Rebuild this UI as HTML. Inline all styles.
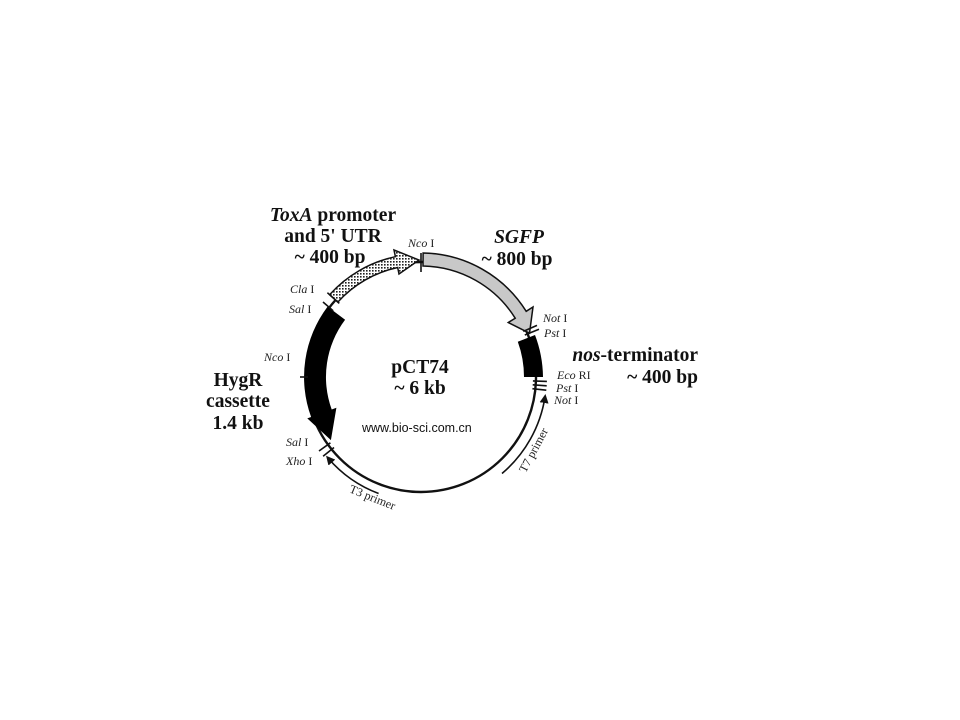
<!DOCTYPE html>
<html><head><meta charset="utf-8"><style>
html,body{margin:0;padding:0;background:#fff;}
svg{display:block;}
.b{font-family:"Liberation Serif",serif;font-weight:bold;font-size:19.5px;fill:#111;}
.s{font-family:"Liberation Serif",serif;font-size:12px;fill:#222;}
.w{font-family:"Liberation Sans",sans-serif;font-size:12.5px;fill:#111;}
</style></head><body>
<svg width="960" height="720" viewBox="0 0 960 720" xmlns="http://www.w3.org/2000/svg">
<defs>
<pattern id="dots" width="3" height="3" patternUnits="userSpaceOnUse">
<rect width="3" height="3" fill="#fff"/><rect width="1.6" height="1.6" fill="#222"/>
</pattern>
<marker id="ah" markerWidth="9" markerHeight="9" refX="6" refY="4.5" orient="auto" markerUnits="userSpaceOnUse">
<path d="M0,0 L9,4.5 L0,9 Z" fill="#111"/>
</marker>
</defs>
<circle cx="421" cy="377" r="115" fill="none" stroke="#111" stroke-width="2.4"/>
<!-- SGFP -->
<path d="M423.1,253 A124,124 0 0 1 526.2,311.3 L533,307 L529.5,333.2 L508.3,322.5 L515.2,318.2 A111,111 0 0 0 423,266 Z" fill="#c8c8c8" stroke="#111" stroke-width="1.5"/>
<!-- ToxA -->
<path d="M337.8,302.1 A112,112 0 0 1 397.7,267.5 L399,274 L419,260 L394,250 L395.4,256.7 A123,123 0 0 0 329.6,294.7 Z" fill="url(#dots)" stroke="#111" stroke-width="1.5"/>
<!-- nos -->
<path d="M535,335 A122,122 0 0 1 543,377 L524,377 A103,103 0 0 0 517.8,341.8 Z" fill="#000"/>
<!-- HygR -->
<path d="M327.6,306.6 A117,117 0 0 0 311.1,417 L307.3,418.4 L330.9,440.1 L336.4,407.8 L331.7,409.5 A95,95 0 0 1 345.1,319.8 Z" fill="#000"/>
<!-- ticks -->
<g stroke="#111" stroke-width="1.6">
<line x1="421" y1="253" x2="421" y2="272"/>
<line x1="339.3" y1="303.4" x2="327.4" y2="292.7"/>
<line x1="333.2" y1="310.8" x2="323" y2="302"/>
<line x1="300" y1="377" x2="308" y2="377"/>
<line x1="524.8" y1="335" x2="539" y2="329.3"/>
<line x1="523.3" y1="331.4" x2="537" y2="325.4"/>
<line x1="532.9" y1="380.9" x2="546.9" y2="381.4"/>
<line x1="532.7" y1="384.8" x2="546.7" y2="385.8"/>
<line x1="532.4" y1="388.7" x2="546.3" y2="390.2"/>
<line x1="330.4" y1="442.8" x2="319" y2="451"/>
<line x1="334" y1="447.5" x2="323.1" y2="456.3"/>
</g>
<!-- primers -->
<path d="M378.6,493.5 A124,124 0 0 1 328,458" fill="none" stroke="#111" stroke-width="1.6" marker-end="url(#ah)"/>
<path d="M502,473.5 A126,126 0 0 0 545,397" fill="none" stroke="#111" stroke-width="1.6" marker-end="url(#ah)"/>
<!-- labels -->
<text class="b" x="333" y="221" text-anchor="middle"><tspan font-style="italic">ToxA</tspan> promoter</text>
<text class="b" x="333" y="242" text-anchor="middle">and 5' UTR</text>
<text class="b" x="330" y="263" text-anchor="middle">~ 400 bp</text>
<text class="b" x="519" y="243" text-anchor="middle" font-style="italic">SGFP</text>
<text class="b" x="517" y="265" text-anchor="middle">~ 800 bp</text>
<text class="b" x="698" y="361" text-anchor="end"><tspan font-style="italic">nos</tspan>-terminator</text>
<text class="b" x="698" y="383" text-anchor="end">~ 400 bp</text>
<text class="b" x="238" y="386" text-anchor="middle">HygR</text>
<text class="b" x="238" y="407" text-anchor="middle">cassette</text>
<text class="b" x="238" y="429" text-anchor="middle">1.4 kb</text>
<text class="b" x="420" y="373" text-anchor="middle">pCT74</text>
<text class="b" x="420" y="394" text-anchor="middle">~ 6 kb</text>
<text class="w" x="362" y="432">www.bio-sci.com.cn</text>
<text class="s" x="408" y="247"><tspan font-style="italic">Nco</tspan> I</text>
<text class="s" x="290" y="293"><tspan font-style="italic">Cla</tspan> I</text>
<text class="s" x="289" y="313"><tspan font-style="italic">Sal</tspan> I</text>
<text class="s" x="264" y="361"><tspan font-style="italic">Nco</tspan> I</text>
<text class="s" x="543" y="322"><tspan font-style="italic">Not</tspan> I</text>
<text class="s" x="544" y="337"><tspan font-style="italic">Pst</tspan> I</text>
<text class="s" x="557" y="379"><tspan font-style="italic">Eco</tspan> RI</text>
<text class="s" x="556" y="392"><tspan font-style="italic">Pst</tspan> I</text>
<text class="s" x="554" y="404"><tspan font-style="italic">Not</tspan> I</text>
<text class="s" x="286" y="446"><tspan font-style="italic">Sal</tspan> I</text>
<text class="s" x="286" y="465"><tspan font-style="italic">Xho</tspan> I</text>
<text class="s" font-size="15" x="0" y="0" text-anchor="middle" transform="translate(371,501) rotate(22)">T3 primer</text>
<text class="s" font-size="15" x="0" y="0" text-anchor="middle" transform="translate(537,452) rotate(-62)">T7 primer</text>
</svg>
</body></html>
